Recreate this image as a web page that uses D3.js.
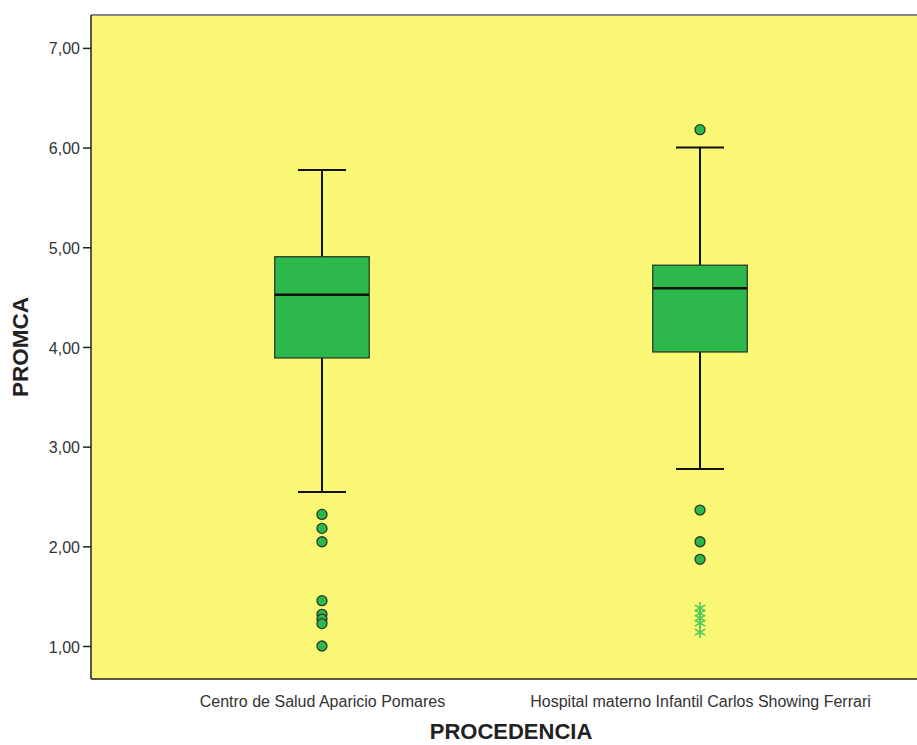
<!DOCTYPE html>
<html><head><meta charset="utf-8">
<script src="https://cdn.jsdelivr.net/npm/d3@7"></script>
<style>body{margin:0;background:#fff;} svg{display:block;font-family:"Liberation Sans",Arial,sans-serif;}</style>
</head><body>
<svg id="chart" width="917" height="745"></svg>
<script>
const categories = ["Centro de Salud Aparicio Pomares", "Hospital materno Infantil Carlos Showing Ferrari"];
const whiskerLow = [2.545, 2.775];
const q1 = [3.89, 3.95];
const median = [4.524, 4.59];
const q3 = [4.905, 4.82];
const whiskerHigh = [5.774, 6.0];
const outliers = [
  [2.32, 2.18, 2.046, 1.455, 1.318, 1.27, 1.225, 1.0],
  [6.18, 2.364, 2.046, 1.87]
];
const extremes = [
  [],
  [1.381, 1.33, 1.28, 1.23, 1.14]
];
const yTicks = [1, 2, 3, 4, 5, 6, 7];

(function () {
const svg = d3.select("#chart");
const pL = 91, pT = 15, pB = 679, pR = 931;

const y = d3.scaleLinear().domain([0.669, 7.33]).range([pB, pT]);
const x = d3.scalePoint().domain(categories).range([pL, pR]).padding(0.611);

svg.append("rect").attr("x", pL).attr("y", pT).attr("width", pR - pL).attr("height", pB - pT)
  .attr("fill", "#FAF774");
svg.append("line").attr("x1", pL).attr("x2", 917).attr("y1", pT).attr("y2", pT)
  .attr("stroke", "#888").attr("stroke-width", 2);

const boxW = 94.5, capW = 48;
const g = svg.append("g");
categories.forEach((c, i) => {
  const cx = x(c);
  g.append("line").attr("x1", cx).attr("x2", cx).attr("y1", y(whiskerHigh[i])).attr("y2", y(q3[i]))
    .attr("stroke", "#111").attr("stroke-width", 2);
  g.append("line").attr("x1", cx).attr("x2", cx).attr("y1", y(q1[i])).attr("y2", y(whiskerLow[i]))
    .attr("stroke", "#111").attr("stroke-width", 2);
  [whiskerHigh[i], whiskerLow[i]].forEach(v => {
    g.append("line").attr("x1", cx - capW / 2).attr("x2", cx + capW / 2).attr("y1", y(v)).attr("y2", y(v))
      .attr("stroke", "#111").attr("stroke-width", 2);
  });
  g.append("rect").attr("x", cx - boxW / 2).attr("y", y(q3[i])).attr("width", boxW)
    .attr("height", y(q1[i]) - y(q3[i])).attr("fill", "#2DB84B").attr("stroke", "#2a3a2a").attr("stroke-width", 1.3);
  g.append("line").attr("x1", cx - boxW / 2).attr("x2", cx + boxW / 2).attr("y1", y(median[i])).attr("y2", y(median[i]))
    .attr("stroke", "#111").attr("stroke-width", 2.5);
  outliers[i].forEach(v => {
    g.append("circle").attr("cx", cx).attr("cy", y(v)).attr("r", 5)
      .attr("fill", "#2DB84B").attr("stroke", "#2a3a2a").attr("stroke-width", 1.3);
  });
  extremes[i].forEach(v => {
    g.append("path").attr("transform", `translate(${cx},${y(v)})`)
      .attr("d", d3.symbol(d3.symbolAsterisk, 100)())
      .attr("fill", "none").attr("stroke", "#4CC95A").attr("stroke-width", 1.5);
  });
});

const yAxis = d3.axisLeft(y).tickValues(yTicks).tickSize(8).tickPadding(3)
  .tickFormat(d => d3.format(".2f")(d).replace(".", ","));
const ya = svg.append("g").attr("transform", `translate(${pL},0)`).call(yAxis);
ya.select(".domain").attr("d", `M0,${pT}V${pB}`).attr("stroke", "#222").attr("stroke-width", 1.5);
ya.selectAll(".tick line").attr("stroke", "#222").attr("stroke-width", 1.5);
ya.selectAll(".tick text").attr("fill", "#333").attr("dy", "0.38em")
  .style("font-size", "16px").style("font-family", "Liberation Sans, Arial, sans-serif");

svg.append("line").attr("x1", pL).attr("x2", 917).attr("y1", pB).attr("y2", pB)
  .attr("stroke", "#222").attr("stroke-width", 1.5);

const xAxis = d3.axisBottom(x).tickSize(0);
const xa = svg.append("g").attr("transform", `translate(0,${pB})`).call(xAxis);
xa.select(".domain").remove();
xa.selectAll(".tick text").attr("fill", "#333").attr("y", 28).attr("dy", 0)
  .style("font-size", "16px").style("font-family", "Liberation Sans, Arial, sans-serif");

svg.append("text").attr("x", 511).attr("y", 739).attr("text-anchor", "middle")
  .style("font-size", "22px").style("font-weight", "bold").attr("fill", "#222").text("PROCEDENCIA");
svg.append("text").attr("transform", "translate(28,347) rotate(-90)").attr("text-anchor", "middle")
  .style("font-size", "22.5px").style("font-weight", "bold").attr("fill", "#222").text("PROMCA");
})();
</script>
</body></html>
